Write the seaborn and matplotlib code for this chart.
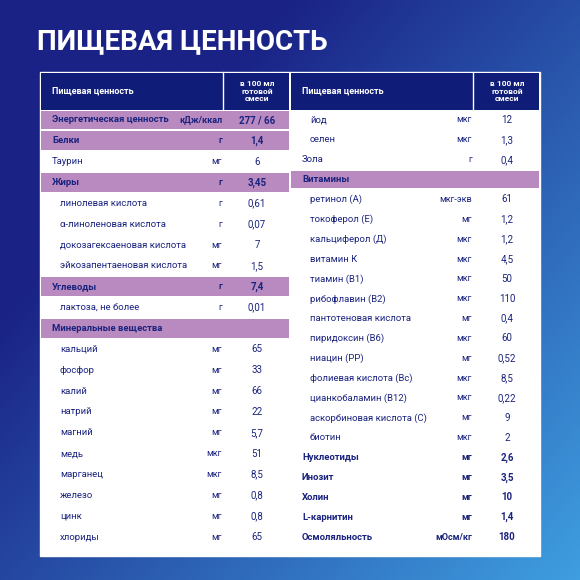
import numpy as np
import matplotlib
matplotlib.use("Agg")
import matplotlib.pyplot as plt
import seaborn as sns
from matplotlib.patches import Rectangle

sns.set_theme(style="white")
plt.rcParams['font.family'] = ['Roboto', 'DejaVu Sans']

left_names = ["Энергетическая ценность", "Белки", "Таурин", "Жиры", "линолевая кислота",
              "α-линоленовая кислота", "докозагексаеновая кислота", "эйкозапентаеновая кислота",
              "Углеводы", "лактоза, не более", "Минеральные вещества", "кальций", "фосфор",
              "калий", "натрий", "магний", "медь", "марганец", "железо", "цинк", "хлориды"]
left_units = ["кДж/ккал", "г", "мг", "г", "г", "г", "мг", "мг", "г", "г", "", "мг", "мг",
              "мг", "мг", "мг", "мкг", "мкг", "мг", "мг", "мг"]
left_values = ["277 / 66", "1,4", "6", "3,45", "0,61", "0,07", "7", "1,5", "7,4", "0,01", "",
               "65", "33", "66", "22", "5,7", "51", "8,5", "0,8", "0,8", "65"]
left_kind = ["H", "H", "N", "H", "S", "S", "S", "S", "H", "S", "H", "S", "S", "S", "S", "S",
             "S", "S", "S", "S", "S"]

right_names = ["йод", "селен", "Зола", "Витамины", "ретинол (А)", "токоферол (Е)",
               "кальциферол (Д)", "витамин К", "тиамин (В1)", "рибофлавин (В2)",
               "пантотеновая кислота", "пиридоксин (В6)", "ниацин (РР)", "фолиевая кислота (Вс)",
               "цианкобаламин (В12)", "аскорбиновая кислота (С)", "биотин", "Нуклеотиды",
               "Инозит", "Холин", "L-карнитин", "Осмоляльность"]
right_units = ["мкг", "мкг", "г", "", "мкг-экв", "мг", "мкг", "мкг", "мкг", "мкг", "мг", "мкг",
               "мг", "мкг", "мкг", "мг", "мкг", "мг", "мг", "мг", "мг", "мОсм/кг"]
right_values = ["12", "1,3", "0,4", "", "61", "1,2", "1,2", "4,5", "50", "110", "0,4", "60",
                "0,52", "8,5", "0,22", "9", "2", "2,6", "3,5", "10", "1,4", "180"]
right_kind = ["S", "S", "N", "H", "S", "S", "S", "S", "S", "S", "S", "S", "S", "S", "S", "S",
              "S", "B", "B", "B", "B", "B"]

fig = plt.figure(figsize=(5.8, 5.8), dpi=100)
bg = fig.add_axes([0, 0, 1, 1])
yy, xx = np.mgrid[0:1:200j, 0:1:200j]
t = np.clip(0.6 * xx + 0.55 * yy - 0.3, 0, 1)
c0 = np.array([0x1a, 0x22, 0x86]) / 255
c1 = np.array([0x45, 0xb4, 0xf0]) / 255
img = c0[None, None, :] * (1 - t[..., None]) + c1[None, None, :] * t[..., None]
bg.imshow(img, extent=[0, 580, 580, 0], aspect='auto')
bg.set_xlim(0, 580); bg.set_ylim(580, 0); bg.axis('off')

navy = "#0f1c78"
txt = "#1a237e"
purple = "#b98ac0"
bg.text(37, 42, "ПИЩЕВАЯ ЦЕННОСТЬ", color="white", fontsize=20, fontweight="bold", va="center")

def panel(x0, names, units, values, kind, y_first, step):
    w = 250
    bg.add_patch(Rectangle((x0, 72), w, 484, facecolor="white", edgecolor="white", lw=1))
    bg.add_patch(Rectangle((x0 + 1, 73), w - 2, 37, facecolor=navy, lw=0))
    bg.plot([x0 + 183, x0 + 183], [72, 110], color="white", lw=1)
    bg.text(x0 + 12, 91, "Пищевая ценность", color="white", fontsize=6.5, fontweight="bold", va="center")
    bg.text(x0 + 217, 91, "в 100 мл\nготовой\nсмеси", color="white", fontsize=6, fontweight="bold",
            va="center", ha="center", linespacing=1.1)
    for i, (n, u, v, k) in enumerate(zip(names, units, values, kind)):
        y = y_first + i * step
        bold = k in ("H", "B")
        if k == "H":
            bg.add_patch(Rectangle((x0 + 1, y - step / 2 + 1), w - 2, step - 2, facecolor=purple, lw=0))
        indent = 20 if k == "S" else 12
        fw = "bold" if bold else "normal"
        bg.text(x0 + indent, y, n, color=txt, fontsize=6.8, fontweight=fw, va="center")
        bg.text(x0 + 182, y, u, color=txt, fontsize=6.5, fontweight=fw, va="center", ha="right")
        bg.text(x0 + 217, y, v, color=txt, fontsize=7, fontweight=fw, va="center", ha="center")

panel(40, left_names, left_units, left_values, left_kind, 120, (537 - 120) / 20)
panel(290, right_names, right_units, right_values, right_kind, 120, (537 - 120) / 21)

fig.savefig("out.png", dpi=100)
